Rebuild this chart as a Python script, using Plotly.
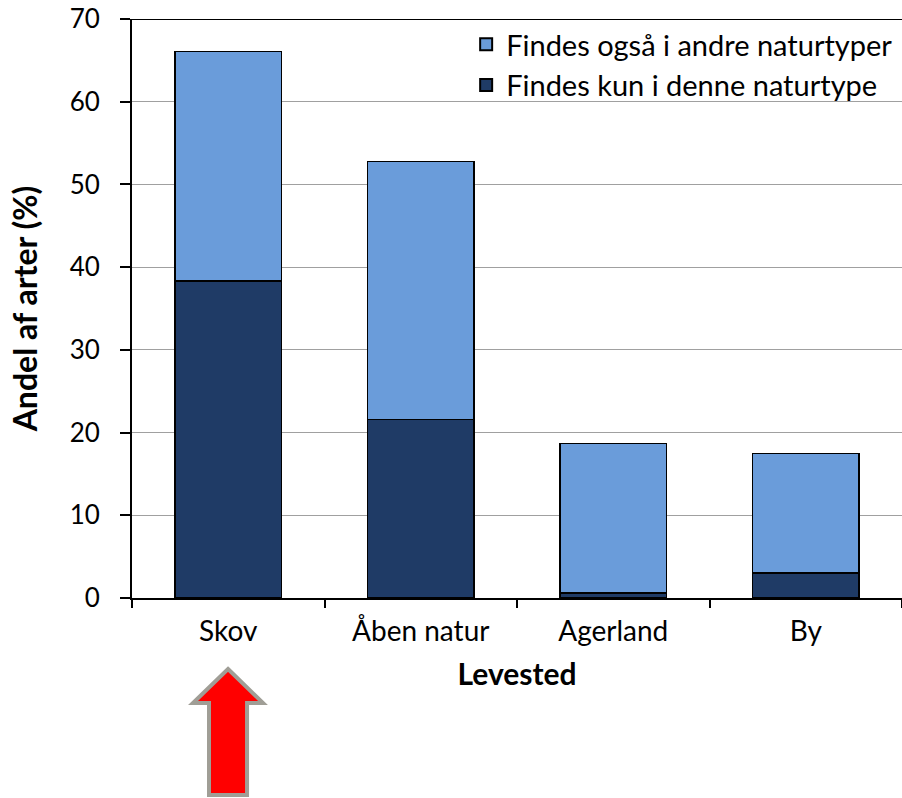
import plotly.graph_objects as go

categories = ["Skov", "Åben natur", "Agerland", "By"]
kun_denne = [38.3, 21.6, 0.6, 3.0]
ogsaa_andre = [27.8, 31.2, 18.1, 14.5]
series_names = ["Findes kun i denne naturtype", "Findes også i andre naturtyper"]
y_ticks = [0, 10, 20, 30, 40, 50, 60, 70]

FONT = "Lato"
fig = go.Figure()
fig.add_trace(go.Bar(x=categories, y=kun_denne, name=series_names[0],
                     marker=dict(color="#1F3B66", line=dict(color="black", width=1.5))))
fig.add_trace(go.Bar(x=categories, y=ogsaa_andre, name=series_names[1],
                     marker=dict(color="#6A9CDA", line=dict(color="black", width=1.5))))

W, H = 902, 798
L, R, T, B = 132, 0, 19, 200
pw, ph = W - L - R, H - T - B

def px(x):
    return (x - L) / pw

def py(y):
    return (H - B - y) / ph

arrow = [(228, 669), (263, 703), (247, 703), (247, 795), (209, 795), (209, 703), (193, 703)]
path = "M " + " L ".join(f"{px(a):.4f},{py(b):.4f}" for a, b in arrow) + " Z"

fig.update_layout(
    width=W, height=H,
    margin=dict(l=L, r=R, t=T, b=B, autoexpand=False),
    barmode="stack",
    bargap=0.445,
    plot_bgcolor="white", paper_bgcolor="white",
    font=dict(family=FONT, size=26, color="black"),
    legend=dict(x=0.995, y=1.0, xanchor="right", yanchor="top",
                traceorder="reversed", bgcolor="rgba(0,0,0,0)",
                font=dict(size=29), itemsizing="constant", tracegroupgap=0),
    xaxis=dict(showline=True, linecolor="black", linewidth=2, automargin=False,
               ticks="outside", ticklen=8, tickcolor="black", tickwidth=1.5,
               tickson="boundaries", tickfont=dict(size=28), ticklabelstandoff=7,
               title=dict(text="<b>Levested</b>", font=dict(size=30), standoff=18)),
    yaxis=dict(range=[0, 70], tickvals=y_ticks, showline=True, linecolor="black", linewidth=2,
               automargin=False, ticklabeloverflow="allow",
               ticks="outside", ticklen=10, tickcolor="black", tickwidth=1.5,
               tickfont=dict(size=26), ticklabelstandoff=15,
               showgrid=True, gridcolor="#A0A0A0", gridwidth=1.2,
               zeroline=False,
               title=dict(text="<b>Andel af arter (%)</b>", font=dict(size=32), standoff=22)),
    shapes=[
        dict(type="line", xref="paper", yref="y", x0=0, x1=1, y0=70, y1=70,
             line=dict(color="black", width=2)),
        dict(type="path", xref="paper", yref="paper", path=path,
             fillcolor="#FF0000", line=dict(color="#A09E96", width=4)),
    ],
)

fig.write_html("out.html", config={"displayModeBar": False},
               post_script="document.body.style.margin='0';")
